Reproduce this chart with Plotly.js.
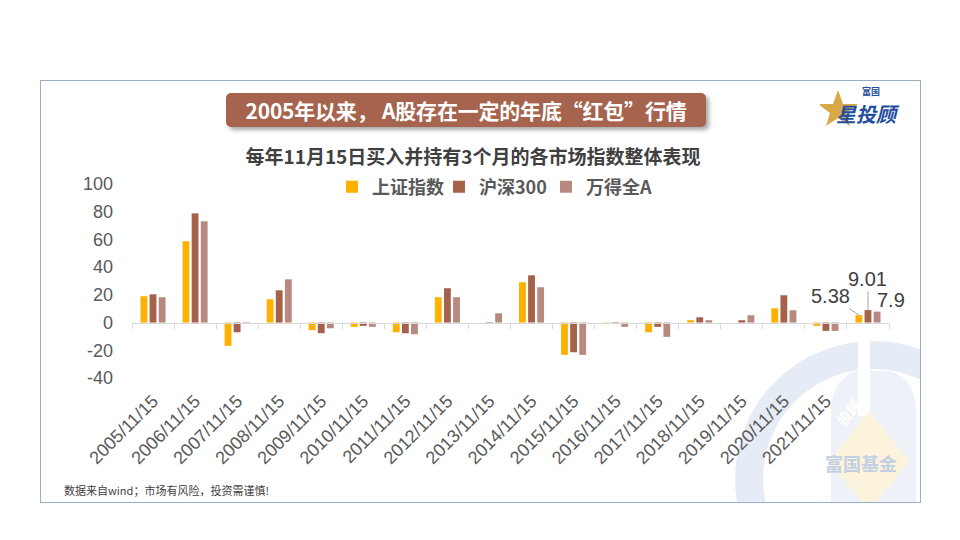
<!DOCTYPE html>
<html><head><meta charset="utf-8">
<script src="https://cdn.plot.ly/plotly-3.0.1.min.js"></script>
<style>
body{margin:0;background:#fff;}
#wrap{position:relative;width:960px;height:540px;overflow:hidden;font-family:"Noto Sans CJK SC",sans-serif;}
#frame{position:absolute;left:40px;top:80px;width:879px;height:421px;border:1px solid #9BAEC6;overflow:hidden;}
#chart{position:absolute;left:0;top:0;width:960px;height:540px;}
#titlebox{position:absolute;left:226px;top:93px;width:480px;height:34px;background:#A6634D;border-radius:5px;box-shadow:3px 3px 4px rgba(0,0,0,0.35);color:#fff;font-weight:bold;font-size:21px;line-height:34px;text-align:center;letter-spacing:-0.2px;}
#logo{position:absolute;left:820px;top:86px;width:95px;height:46px;}
</style></head>
<body>
<div id="wrap">
  <div id="frame">
    <svg width="879" height="421" style="position:absolute;left:0;top:0">
      <circle cx="832" cy="398" r="124" fill="none" stroke="#E6ECF5" stroke-width="28"/>
      <path d="M790,421 L790,330 Q790,300 815,290 L850,290 Q875,300 875,330 L875,421 Z" fill="#EEF2F8"/>
      <rect x="817" y="255" width="12" height="80" fill="#ffffff"/>
      <polygon points="828,330 868,380 828,430 788,380" fill="#FCF3DD"/>
      <text x="820" y="390" text-anchor="middle" font-family="Noto Sans CJK SC" font-weight="700" font-size="18" fill="#C3CFE3">富国基金</text>
      <text x="812" y="335" text-anchor="middle" font-family="Noto Sans CJK SC" font-weight="700" font-size="14" fill="#ffffff" transform="rotate(-50 812 335)">投顾</text>
    </svg>
  </div>
  <div id="chart"></div>
  <div id="titlebox">2005年以来，&nbsp;A股存在一定的年底“红包”行情</div>
  <div id="logo">
    <svg width="95" height="46">
      <polygon points="18,4 23,18 38,18 26,27 30,40 18,32 6,40 10,27 -2,18 13,18" fill="#D9A848"/>
      <text x="42" y="9" font-family="Noto Sans CJK SC" font-weight="700" font-size="9" fill="#1F4F9E">富国</text>
      <text x="16" y="36" font-family="Noto Sans CJK SC" font-weight="700" font-style="italic" font-size="20" fill="#1F4F9E">星投顾</text>
    </svg>
  </div>
</div>
<script>
const dates = ['2005/11/15','2006/11/15','2007/11/15','2008/11/15','2009/11/15','2010/11/15','2011/11/15','2012/11/15','2013/11/15','2014/11/15','2015/11/15','2016/11/15','2017/11/15','2018/11/15','2019/11/15','2020/11/15','2021/11/15','2022/11/15'];
const tickLabels = ['2005/11/15','2006/11/15','2007/11/15','2008/11/15','2009/11/15','2010/11/15','2011/11/15','2012/11/15','2013/11/15','2014/11/15','2015/11/15','2016/11/15','2017/11/15','2018/11/15','2019/11/15','2020/11/15','2021/11/15'];
const seriesNames = ['上证指数','沪深300','万得全A'];
const shIndex = [19.0,58.7,-16.8,16.8,-5.5,-3.1,-7.0,18.3,0,29.1,-23.3,0.2,-7.0,1.7,0,10.3,-2.4,5.38];
const hs300 = [20.4,78.8,-7.0,23.3,-7.7,-2.4,-7.7,24.8,-1.0,34.1,-21.4,-1.0,-3.1,3.8,1.7,19.7,-6.0,9.01];
const windA = [18.3,73.1,-1.0,31.2,-4.1,-3.1,-8.4,18.3,6.7,25.5,-23.3,-3.1,-10.3,1.7,5.3,8.9,-6.0,7.9];
const yTicks = [-40,-20,0,20,40,60,80,100];
const yTickText = ['-40','-20','0','20','40','60','80','100'];
const colors = ['#FFB000','#A5614A','#B88A7F'];

const W=960,H=540,ML=132,MR=71,MT=184,MB=162;
const PW=W-ML-MR, PH=H-MT-MB;
const px2x = p => (p-ML)/PW;
const px2y = p => (H-MB-p)/PH;

const cjk = '"Noto Sans CJK SC", sans-serif';
const latin = '"Liberation Sans", Arial, sans-serif';

const series=[shIndex,hs300,windA];
const traces = series.map((ys,i)=>({
  type:'bar', x:dates, y:ys, name:seriesNames[i],
  marker:{color:colors[i]}, hoverinfo:'skip'
}));
traces.push({type:'scatter', mode:'markers', x:dates, y:dates.map(()=>0), xaxis:'x2', yaxis:'y',
  marker:{opacity:0,size:1}, showlegend:false, hoverinfo:'skip'});

const nCat = dates.length;
const catW = PW/nCat;
const bargap = 0.35;
const slot = catW*(1-bargap)/3;
const last = nCat-1;

const annotations = [
  {x:dates[last], y:shIndex[last], xshift:-slot, ax:-28, ay:-19, text:String(shIndex[last])},
  {x:dates[last], y:hs300[last], xshift:0, ax:0, ay:-31, text:String(hs300[last])},
  {x:dates[last], y:windA[last], xshift:slot, ax:14, ay:-12, text:String(windA[last]), hide:true}
].map(a=>({x:a.x,y:a.y,xref:'x',yref:'y',xshift:a.xshift,ax:a.ax,ay:a.ay,text:a.text,
  showarrow:true, arrowhead:0, arrowwidth:1, standoff:0,
  arrowcolor: a.hide ? 'rgba(0,0,0,0)' : '#A6A6A6',
  font:{family:latin,size:20,color:'#404040'}}));
annotations.push({xref:'paper',yref:'paper',x:px2x(62),y:px2y(490),xanchor:'left',yanchor:'middle',
  showarrow:false,text:'数据来自wind；市场有风险，投资需谨慎!',font:{family:cjk,size:11,color:'#404040'}});

const layout = {
  width:W,height:H,
  margin:{l:ML,r:MR,t:MT,b:MB,pad:0},
  paper_bgcolor:'rgba(0,0,0,0)', plot_bgcolor:'rgba(0,0,0,0)',
  barmode:'group', bargap:bargap, bargroupgap:0.25,
  title:{text:'每年11月15日买入并持有3个月的各市场指数整体表现', xref:'container', yref:'container',
    x:473/W, y:1-157/H, xanchor:'center', yanchor:'middle',
    font:{family:cjk,size:19,color:'#404040',weight:700}},
  showlegend:true,
  legend:{orientation:'h', x:px2x(332), y:px2y(187), xanchor:'left', yanchor:'middle',
    font:{family:cjk,size:18,color:'#595959',weight:700}, bgcolor:'rgba(0,0,0,0)', entrywidth:62, itemwidth:30},
  xaxis:{type:'category', range:[-0.5,nCat-0.5], tickvals:tickLabels, ticktext:tickLabels,
    tickangle:-45, showline:false, showgrid:false, zeroline:false, ticks:'', ticklabelstandoff:8,
    tickfont:{family:latin,size:18,color:'#595959'}, fixedrange:true},
  xaxis2:{type:'category', overlaying:'x', anchor:'free', position:px2y(H-MB-PH*40/140), range:[-0.5,nCat-0.5],
    showline:true, linecolor:'#D9D9D9', linewidth:1.5, ticks:'outside', tickson:'boundaries',
    ticklen:5, tickcolor:'#D9D9D9', tickwidth:1, showticklabels:false, showgrid:false, zeroline:false},
  yaxis:{range:[-40,100], tickvals:yTicks, ticktext:yTickText, showgrid:false, zeroline:false, showline:false, ticks:'',
    ticklabelstandoff:18, tickfont:{family:latin,size:18,color:'#595959'}},
  annotations:annotations
};
Plotly.newPlot('chart',traces,layout,{displayModeBar:false,staticPlot:true});
</script>
</body></html>
